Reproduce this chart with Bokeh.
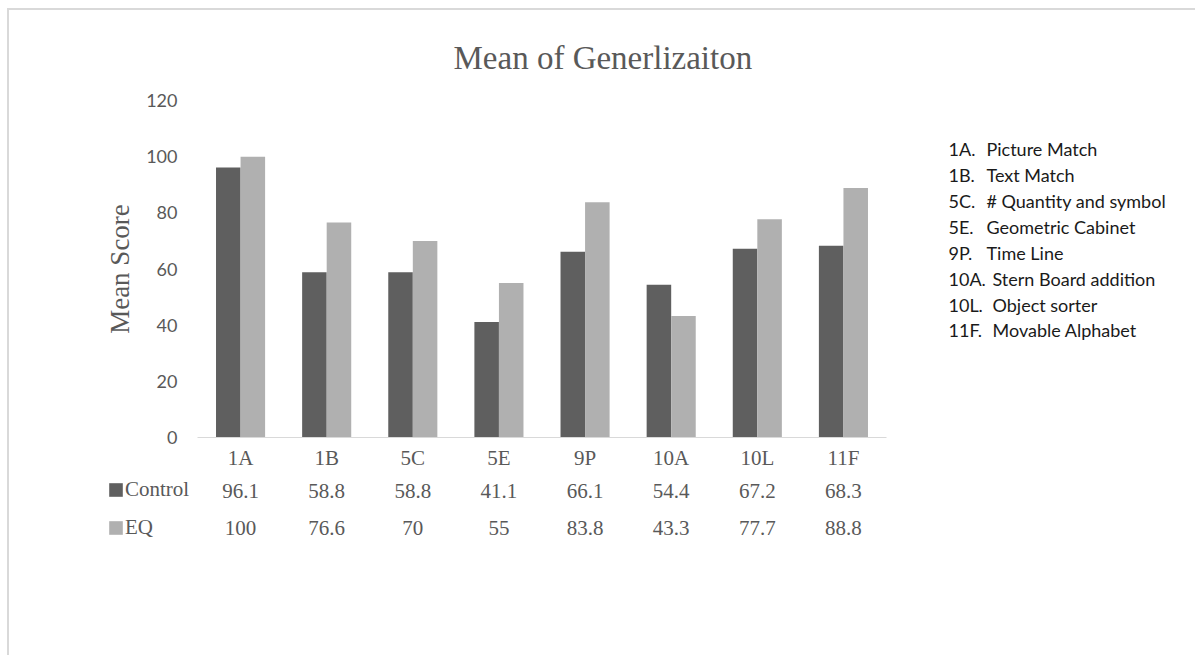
from bokeh.plotting import figure
from bokeh.models import (ColumnDataSource, FactorRange, Range1d, FixedTicker,
                          Legend, LegendItem)
from bokeh.layouts import column, row
from bokeh.transform import dodge
from bokeh.core.properties import value
from bokeh.embed import file_html
from bokeh.resources import INLINE

# ---- data ----
categories = ["1A", "1B", "5C", "5E", "9P", "10A", "10L", "11F"]
control = [96.1, 58.8, 58.8, 41.1, 66.1, 54.4, 67.2, 68.3]
eq = [100, 76.6, 70, 55, 83.8, 43.3, 77.7, 88.8]
series_names = ["Control", "EQ"]
y_ticks = [0, 20, 40, 60, 80, 100, 120]
title_text = "Mean of Generlizaiton"
y_title = "Mean Score"
key_codes = ["1A.", "1B.", "5C.", "5E.", "9P.", "10A.", "10L.", "11F."]
key_names = ["Picture Match", "Text Match", "# Quantity and symbol", "Geometric Cabinet",
             "Time Line", "Stern Board addition", "Object sorter", "Movable Alphabet"]

DARK = "#5f5f5f"
LIGHT = "#b0b0b0"
TXT = "#595959"
SERIF = "Liberation Serif"
SANS = "Lato"

src = ColumnDataSource(dict(cat=categories, control=control, eq=eq))

TOP, BOT = 90, 35          # shared top / bottom borders of the chart row

# ================= main chart =================
p = figure(width=921, height=462, output_backend="svg", toolbar_location=None,
           x_range=FactorRange(factors=categories, range_padding=0),
           y_range=Range1d(0, 120),
           min_border_left=188, min_border_right=44, min_border_top=TOP, min_border_bottom=BOT)
p.outline_line_color = None
p.grid.grid_line_color = None

r1 = p.vbar(x=dodge("cat", -0.1425, range=p.x_range), top="control", width=0.285,
            source=src, fill_color=DARK, line_color=None)
r2 = p.vbar(x=dodge("cat", 0.1425, range=p.x_range), top="eq", width=0.285,
            source=src, fill_color=LIGHT, line_color=None)

p.title.text = title_text
p.title.align = "left"
p.title.offset = 256
p.title.standoff = 49
p.title.text_font = SERIF
p.title.text_font_size = "33px"
p.title.text_font_style = "normal"
p.title.text_color = TXT

ya = p.yaxis[0]
ya.ticker = FixedTicker(ticks=y_ticks)
ya.axis_line_color = None
ya.major_tick_line_color = None
ya.minor_tick_line_color = None
ya.major_tick_out = 0
ya.major_label_standoff = 20
ya.major_label_text_font = SANS
ya.major_label_text_font_size = "18px"
ya.major_label_text_color = TXT
ya.axis_label = y_title
ya.axis_label_text_font = SERIF
ya.axis_label_text_font_size = "27px"
ya.axis_label_text_font_style = "normal"
ya.axis_label_text_color = TXT
ya.axis_label_standoff = 8

xa = p.xaxis[0]
xa.axis_line_color = "#d9d9d9"
xa.axis_line_width = 1
xa.major_tick_line_color = None
xa.major_tick_out = 0
xa.major_label_standoff = 8
xa.major_label_text_font = SERIF
xa.major_label_text_font_size = "21px"
xa.major_label_text_color = TXT

# ================= right-hand key =================
key_src = ColumnDataSource(dict(
    code=key_codes, name=key_names,
    x=[0] * len(key_codes),
    idx=list(range(len(key_codes))),
    dx=[38 if len(c) <= 3 else 44 for c in key_codes],
))
k = figure(width=265, height=462, output_backend="svg", toolbar_location=None,
           x_range=Range1d(0, 1), y_range=Range1d(11.141, -1.8955),
           x_axis_location=None, y_axis_location=None,
           min_border_left=18, min_border_right=0, min_border_top=TOP, min_border_bottom=BOT)
k.outline_line_color = None
k.grid.grid_line_color = None
k.text(x="x", y="idx", text="code", source=key_src, text_align="left", text_baseline="middle",
       text_font=value(SANS), text_font_size="18px", text_color="#1a1a1a")
k.text(x="x", y="idx", text="name", x_offset="dx", source=key_src, text_align="left",
       text_baseline="middle", text_font=value(SANS), text_font_size="18px", text_color="#1a1a1a")

# ================= data table =================
tbl_src = ColumnDataSource(dict(
    cat=categories,
    control_txt=["%g" % v for v in control],
    eq_txt=["%g" % v for v in eq],
    row_c=[series_names[0]] * len(categories),
    row_e=[series_names[1]] * len(categories),
))
t = figure(width=1186, height=183, output_backend="svg", toolbar_location=None,
           x_range=FactorRange(factors=categories, range_padding=90 / 86.125,
                               range_padding_units="absolute"),
           y_range=FactorRange(factors=list(reversed(series_names))),
           x_axis_location=None, y_axis_location=None,
           min_border_left=98, min_border_right=219, min_border_top=0, min_border_bottom=109)
t.outline_line_color = None
t.grid.grid_line_color = None
for col, rowf in (("control_txt", "row_c"), ("eq_txt", "row_e")):
    t.text(x="cat", y=rowf, text=col, source=tbl_src, text_align="center", text_baseline="middle",
           text_font=value(SERIF), text_font_size="21px", text_color=TXT)

# legend keys of the table rows (swatches only, bars themselves live in the chart)
kc = t.vbar(x="cat", top="control", width=0.285, source=src, fill_color=DARK,
            line_color=None, visible=False)
ke = t.vbar(x="cat", top="eq", width=0.285, source=src, fill_color=LIGHT,
            line_color=None, visible=False)
legend = Legend(items=[LegendItem(label=series_names[0], renderers=[kc]),
                       LegendItem(label=series_names[1], renderers=[ke])],
                location=(0, 6), orientation="vertical")
legend.padding = 0
legend.margin = 0
legend.spacing = 13
legend.glyph_width = 17
legend.glyph_height = 17
legend.label_standoff = 1
legend.label_text_font = SERIF
legend.label_text_font_size = "21px"
legend.label_text_color = TXT
legend.border_line_color = None
legend.background_fill_alpha = 0
legend.inactive_fill_alpha = 0
t.add_layout(legend)

layout = column(row(p, k), t, margin=(8, 0, 0, 7),
                styles={"border-top": "2px solid #d9d9d9", "border-left": "2px solid #d9d9d9"})
open("out.html", "w").write(file_html(layout, INLINE))
